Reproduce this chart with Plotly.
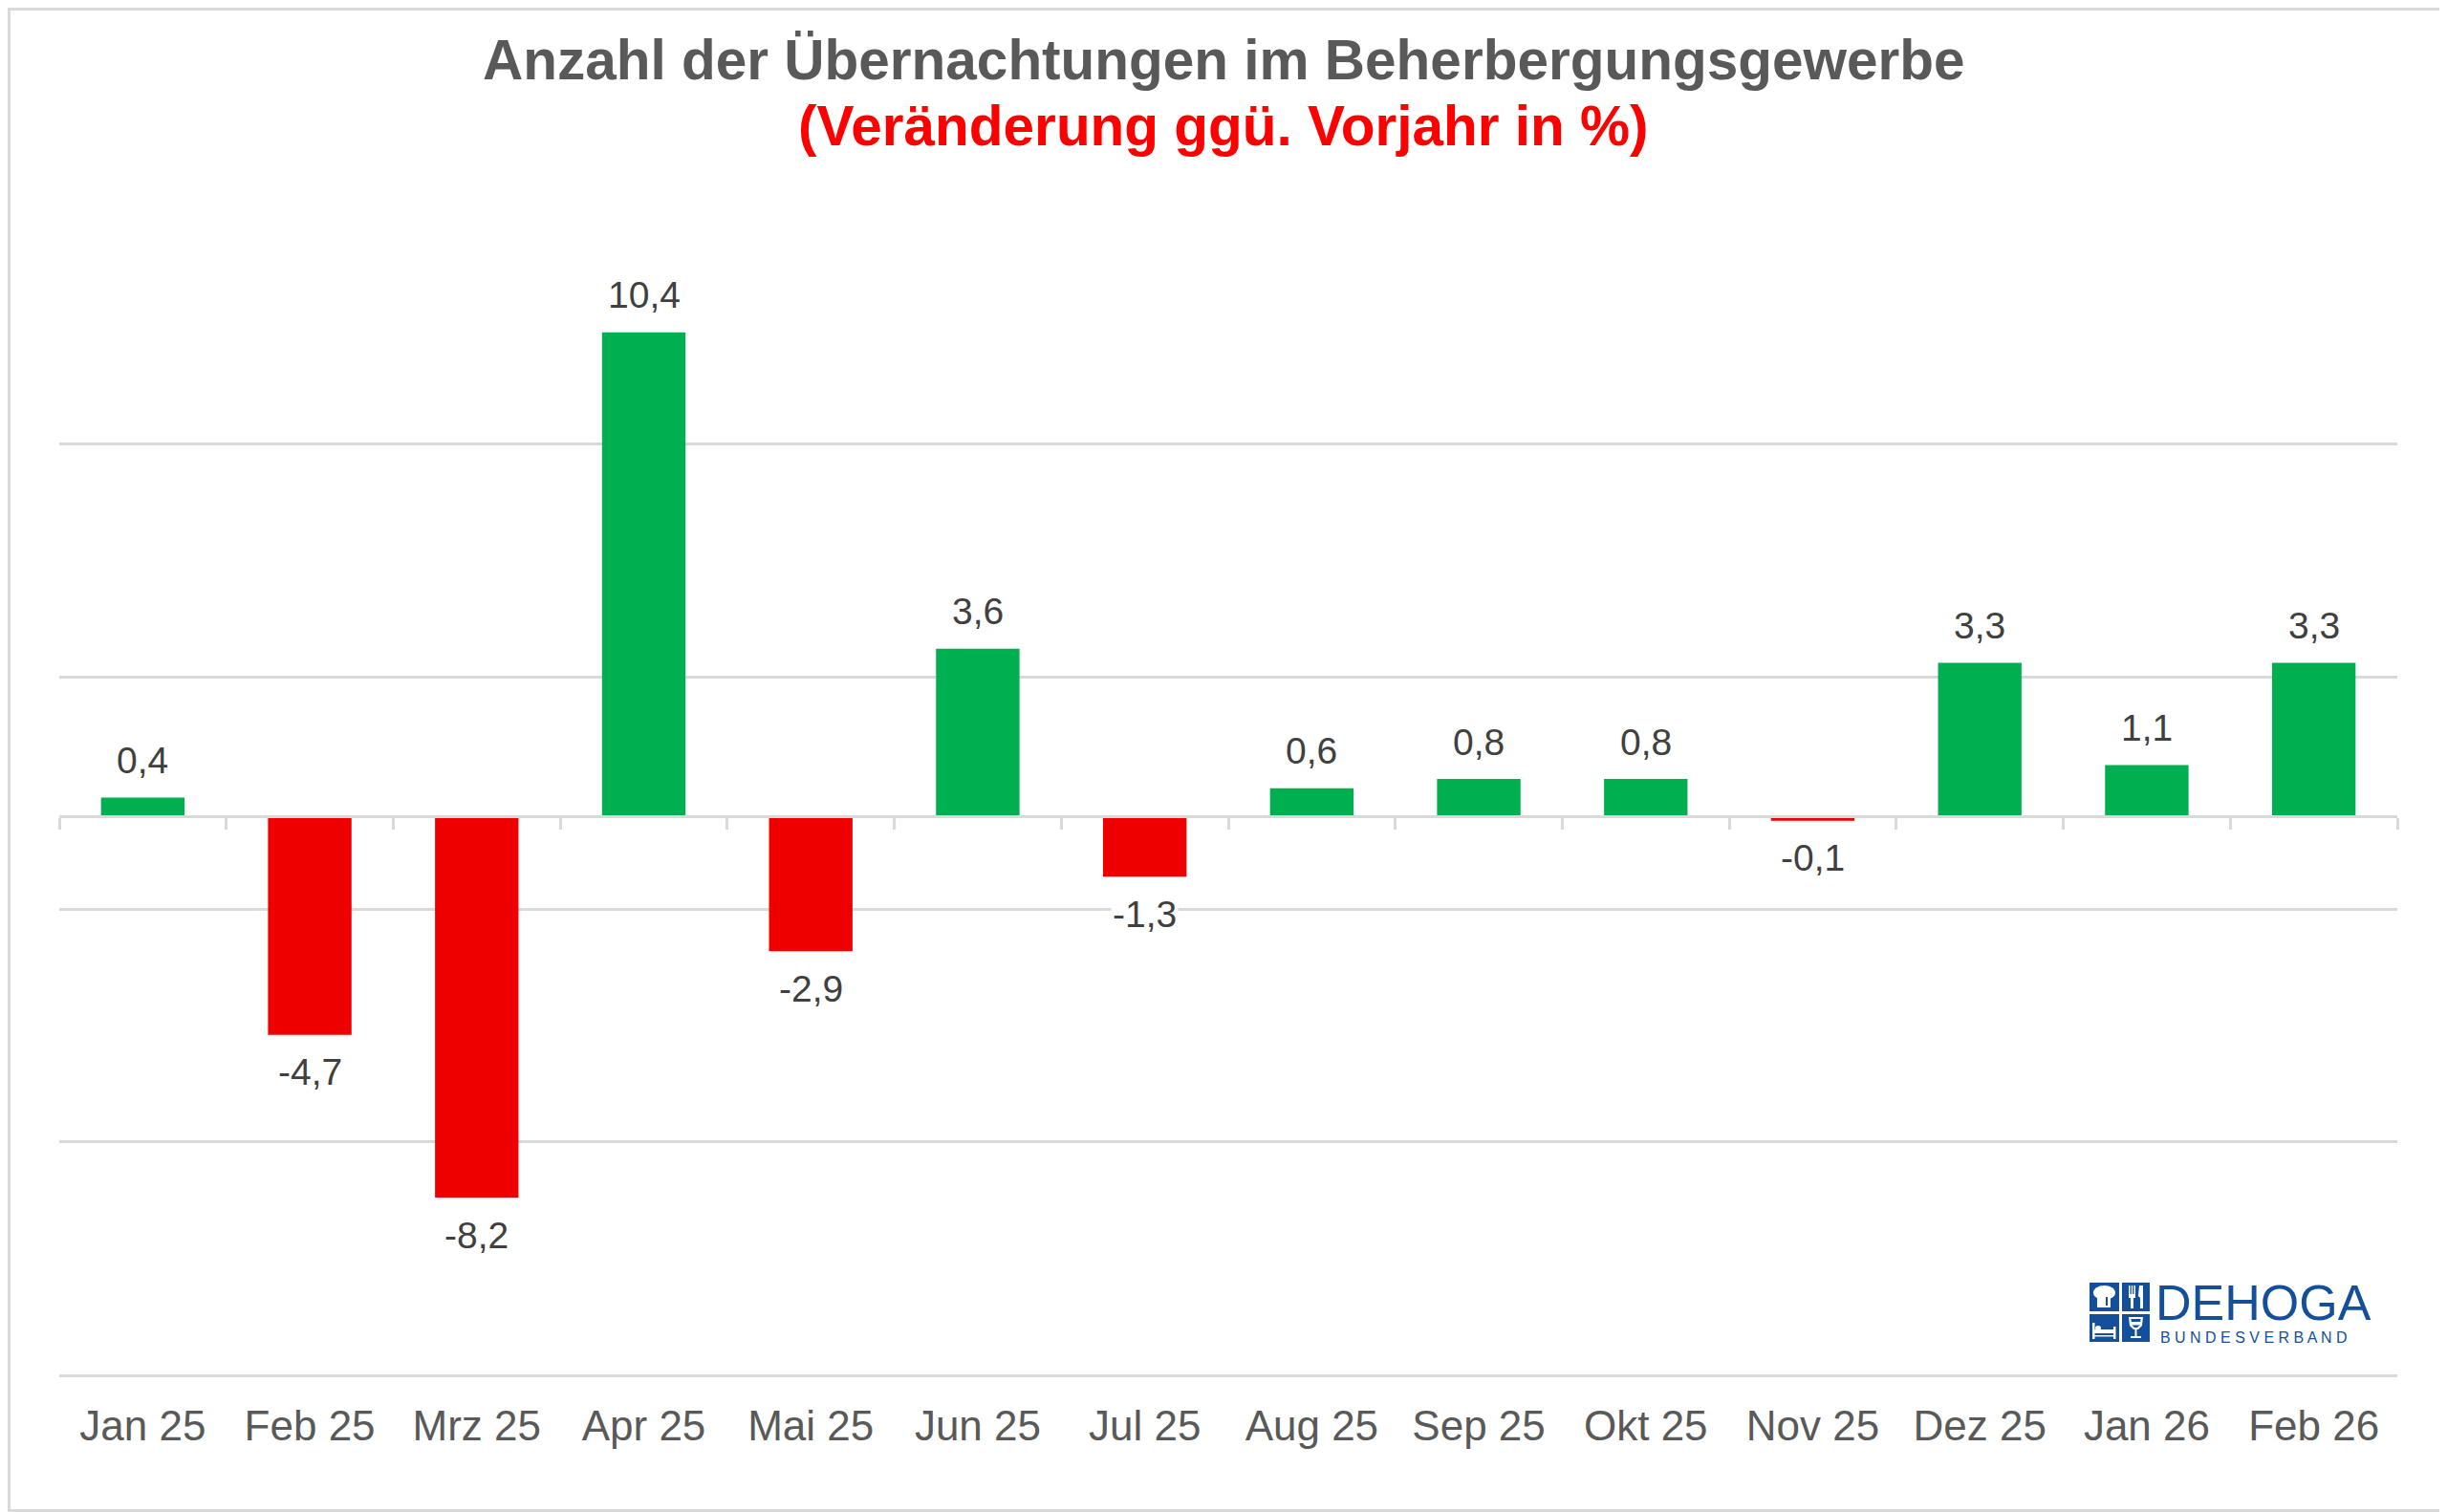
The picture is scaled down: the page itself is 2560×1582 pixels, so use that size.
import plotly.graph_objects as go

# ---- data ----
months = ["Jan 25", "Feb 25", "Mrz 25", "Apr 25", "Mai 25", "Jun 25", "Jul 25",
          "Aug 25", "Sep 25", "Okt 25", "Nov 25", "Dez 25", "Jan 26", "Feb 26"]
changes = [0.4, -4.7, -8.2, 10.4, -2.9, 3.6, -1.3, 0.6, 0.8, 0.8, -0.1, 3.3, 1.1, 3.3]
grid_vals = [-7, -2, 3, 8]

title_main = "Anzahl der Übernachtungen im Beherbergungsgewerbe"
title_sub = "(Veränderung ggü. Vorjahr in %)"

GREEN = "#00B050"
RED = "#EE0000"
GRID = "#D9D9D9"
FONT = "Liberation Sans, Arial, sans-serif"

OFF = 8  # page body margin
W, H = 2560 - OFF, 1582 - OFF
L, R, T, B = 62 - OFF, 52, 270 - OFF, 144
PW, PH = W - L - R, H - T - B
BOTTOM_PX = 1438  # page coordinate of plot bottom


def px(x):
    """page x pixel -> paper fraction"""
    return (x - OFF - L) / PW


def py(y):
    """page y pixel -> paper fraction"""
    return (BOTTOM_PX - y) / PH


colors = [GREEN if v >= 0 else RED for v in changes]

fig = go.Figure()
fig.add_trace(go.Bar(
    x=months, y=changes, marker=dict(color=colors, line=dict(width=0)),
    hoverinfo="x+y", showlegend=False,
))
# helper trace for the zero-line axis with ticks at category boundaries
fig.add_trace(go.Scatter(
    x=months, y=changes, xaxis="x2", mode="markers",
    marker=dict(opacity=0), hoverinfo="skip", showlegend=False,
))

annotations = []
for m, v in zip(months, changes):
    annotations.append(dict(
        x=m, y=v, xref="x", yref="y",
        text=f"{v:.1f}".replace(".", ","),
        showarrow=False, yshift=39 if v >= 0 else -39,
        font=dict(family=FONT, size=39, color="#404040"),
        bgcolor="white", borderpad=1,
    ))

annotations.append(dict(
    x=px(1280), y=py(63), xref="paper", yref="paper", text=f"<b>{title_main}</b>",
    showarrow=False, xanchor="center", yanchor="middle",
    font=dict(family=FONT, size=58.5, color="#595959"),
))
annotations.append(dict(
    x=px(1280), y=py(131), xref="paper", yref="paper", text=f"<b>{title_sub}</b>",
    showarrow=False, xanchor="center", yanchor="middle",
    font=dict(family=FONT, size=58.5, color="#FF0000"),
))

# ---- DEHOGA logo ----
BLUE = "#134F9B"
annotations.append(dict(
    x=px(2254), y=py(1333), xref="paper", yref="paper", text="DEHOGA",
    showarrow=False, xanchor="left", yanchor="top", borderpad=0,
    font=dict(family=FONT, size=52, color=BLUE),
))
annotations.append(dict(
    x=px(2259), y=py(1390), xref="paper", yref="paper",
    text="B U N D E S V E R B A N D",
    showarrow=False, xanchor="left", yanchor="top", borderpad=0,
    font=dict(family=FONT, size=16, color=BLUE),
))

shapes = []
# outer chart border
shapes.append(dict(type="rect", xref="paper", yref="paper",
                   x0=px(OFF + 1.5), x1=px(2558.5), y0=py(OFF + 1.5), y1=py(1580.5),
                   line=dict(color=GRID, width=3), fillcolor="rgba(0,0,0,0)", layer="below"))


def rect(x0, y0, x1, y1, color):
    shapes.append(dict(type="rect", xref="paper", yref="paper",
                       x0=px(x0), x1=px(x1), y0=py(y0), y1=py(y1),
                       line=dict(width=0), fillcolor=color))


def path(points, color):
    d = "M " + " L ".join(f"{px(x):.6f},{py(y):.6f}" for x, y in points) + " Z"
    shapes.append(dict(type="path", xref="paper", yref="paper", path=d,
                       line=dict(width=0), fillcolor=color))


def circle(x0, y0, x1, y1, color):
    shapes.append(dict(type="circle", xref="paper", yref="paper",
                       x0=px(x0), x1=px(x1), y0=py(y0), y1=py(y1),
                       line=dict(width=0), fillcolor=color))


# four blue squares
rect(2186, 1342, 2217, 1372, BLUE)
rect(2220, 1342, 2249, 1372, BLUE)
rect(2186, 1375, 2217, 1404, BLUE)
rect(2220, 1375, 2249, 1404, BLUE)
# chef hat
circle(2190, 1345, 2213, 1360, "white")
rect(2194, 1354, 2208, 1368, "white")
rect(2203, 1357, 2205, 1366, BLUE)
# fork and knife
rect(2227, 1345, 2228.5, 1355, "white")
rect(2229.8, 1345, 2231.2, 1355, "white")
rect(2232.5, 1345, 2234, 1355, "white")
rect(2227, 1354, 2234, 1358, "white")
rect(2229, 1357, 2232, 1369, "white")
path([(2238, 1345), (2242, 1345), (2242, 1369), (2239, 1369), (2239, 1358), (2237, 1356)], "white")
# bed
rect(2189, 1384, 2191.5, 1401, "white")
rect(2211, 1388, 2213.5, 1401, "white")
rect(2191, 1391, 2211, 1395, "white")
rect(2191, 1397, 2211, 1398.5, "white")
circle(2192, 1387, 2198, 1392, "white")
# glass
path([(2227, 1378), (2242, 1378), (2241, 1387), (2237, 1391), (2232, 1391), (2228, 1387)], "white")
path([(2229.5, 1380), (2239.5, 1380), (2239, 1386), (2236, 1389), (2233, 1389), (2230, 1386)], BLUE)
rect(2229.5, 1383, 2239.5, 1386.5, "white")
rect(2233.5, 1390, 2235.5, 1398, "white")
rect(2229, 1398, 2240, 1400, "white")

fig.update_layout(
    width=W, height=H,
    margin=dict(l=L, r=R, t=T, b=B, pad=0),
    paper_bgcolor="white", plot_bgcolor="white",
    bargap=0.5,
    showlegend=False,
    annotations=annotations,
    shapes=shapes,
    xaxis=dict(
        type="category", range=[-0.5, len(months) - 0.5],
        showline=True, linecolor=GRID, linewidth=2.5,
        showgrid=False, ticks="", ticklabelstandoff=13,
        tickfont=dict(family=FONT, size=44, color="#595959"),
        fixedrange=True,
    ),
    xaxis2=dict(
        type="category", overlaying="x", anchor="free", position=0.5,
        range=[-0.5, len(months) - 0.5],
        showline=True, linecolor=GRID, linewidth=3,
        ticks="outside", tickson="boundaries", ticklen=12, tickwidth=2.5,
        tickcolor=GRID, showticklabels=False, showgrid=False,
    ),
    yaxis=dict(
        range=[-12, 12], tickvals=grid_vals, showticklabels=False,
        showgrid=True, gridcolor=GRID, gridwidth=2.5,
        zeroline=False, showline=False, ticks="", fixedrange=True,
    ),
)

fig.write_html("out.html")
